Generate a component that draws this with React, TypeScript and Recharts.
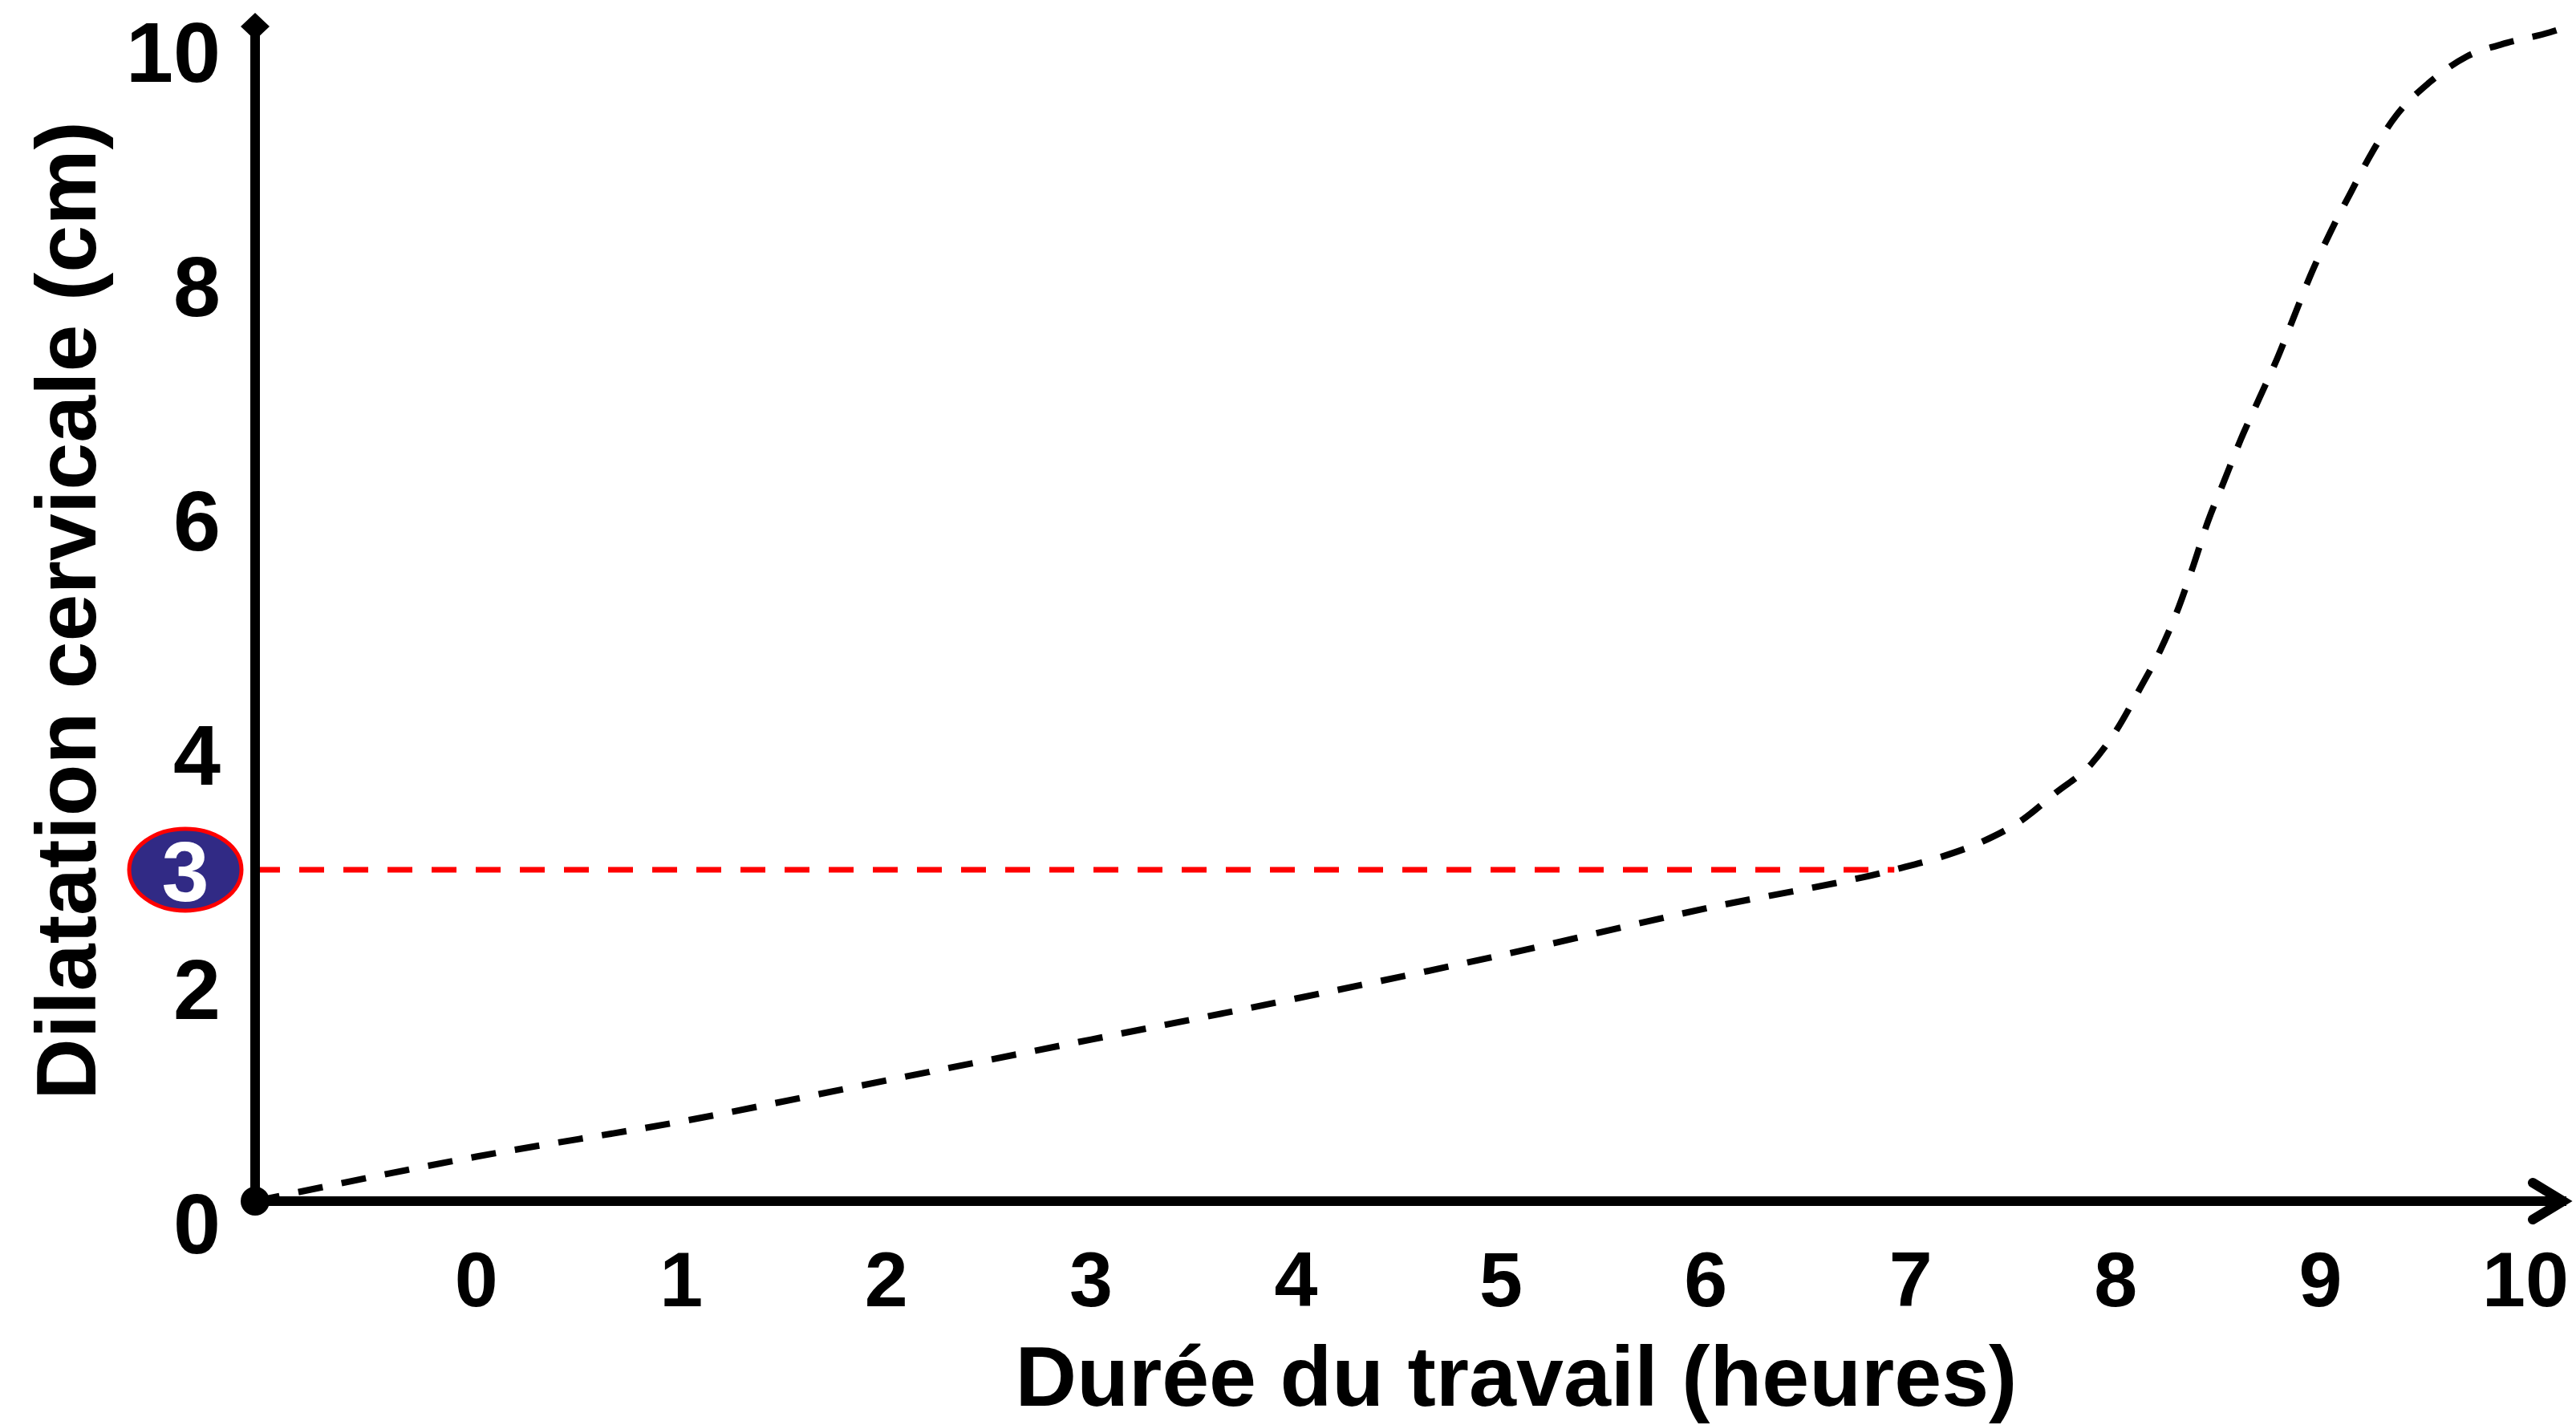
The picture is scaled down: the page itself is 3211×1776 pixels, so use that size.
import React from 'react';
import { LineChart, Line, XAxis, YAxis, ReferenceLine, ReferenceDot } from 'recharts';

// Durée du travail (heures)
const hours = [-1.08, 0, 1, 2, 3, 4, 5, 6, 6.92, 7.15, 7.35, 7.54, 7.71, 7.88, 8.0, 8.12, 8.22, 8.31, 8.38, 8.45, 8.53, 8.61, 8.7, 8.79, 8.87, 8.95, 9.05, 9.15, 9.25, 9.37, 9.53, 9.71, 9.91, 10.12, 10.19];
// Dilatation cervicale (cm)
const dilatation = [0.17, 0.55, 0.85, 1.2, 1.55, 1.9, 2.27, 2.67, 3.0, 3.11, 3.24, 3.42, 3.66, 3.9, 4.18, 4.55, 4.88, 5.25, 5.6, 5.97, 6.32, 6.67, 7.02, 7.37, 7.72, 8.07, 8.45, 8.79, 9.12, 9.44, 9.72, 9.94, 10.06, 10.15, 10.19];

const xTicks = [0, 1, 2, 3, 4, 5, 6, 7, 8, 9, 10];
const yTicks = [0, 2, 3, 4, 6, 8, 10];
const xDomain = [-1.08, 10.2];
const yDomain = [0.17, 10.2];
const highlightValue = 3;
const highlightHour = 6.92;
const xTitle = 'Durée du travail (heures)';
const yTitle = 'Dilatation cervicale (cm)';

const data = hours.map((h, i) => ({ h, v: dilatation[i] }));

const FONT = "'Liberation Sans', Arial, sans-serif";

const YTick = (props: any) => {
  const { x, y, payload } = props;
  if (payload.value === highlightValue) {
    return (
      <g>
        <ellipse cx={x - 87} cy={y} rx={70} ry={51} fill="#312a85" stroke="#ff0000" strokeWidth={5} />
        <text x={x - 87} y={y + 39} textAnchor="middle" fill="#ffffff" fontSize={106} fontWeight="bold" fontFamily={FONT}>
          {payload.value}
        </text>
      </g>
    );
  }
  return (
    <text x={x - 43} y={y + 40} textAnchor="end" fill="#000" fontSize={106} fontWeight="bold" fontFamily={FONT}>
      {payload.value}
    </text>
  );
};

const XTick = (props: any) => {
  const { x, y, payload } = props;
  return (
    <text x={x} y={y + 131} textAnchor="middle" fill="#000" fontSize={97} fontWeight="bold" fontFamily={FONT}>
      {payload.value}
    </text>
  );
};

const XTitle = () => (
  <text x={1890} y={1752} textAnchor="middle" fill="#000" fontSize={106} fontWeight="bold" fontFamily={FONT}>
    {xTitle}
  </text>
);

const YTitle = () => (
  <text x={119} y={761} transform="rotate(-90 119 761)" textAnchor="middle" fill="#000" fontSize={106} fontWeight="bold" fontFamily={FONT}>
    {yTitle}
  </text>
);

export default function App() {
  return (
    <div style={{ width: 3211, height: 1776, background: '#fff' }}>
      <style>{`html,body{margin:0;padding:0;overflow:hidden;background:#fff}`}</style>
      <LineChart width={3211} height={1776} data={data} margin={{ top: 33, right: 12, bottom: 0, left: 0 }}>
        <defs>
          <marker id="axisDiamond" viewBox="-20 -20 40 40" refX={0} refY={0} markerWidth={40} markerHeight={40} markerUnits="userSpaceOnUse" orient="0">
            <path d="M0,-17 L18,0 L0,17 L-18,0 Z" fill="#000" />
          </marker>
          <marker id="axisArrow" viewBox="-60 -40 80 80" refX={0} refY={0} markerWidth={80} markerHeight={80} markerUnits="userSpaceOnUse" orient="auto">
            <path d="M-42,-23 L-4,0 L-42,23" fill="none" stroke="#000" strokeWidth={12} strokeLinecap="round" strokeLinejoin="miter" />
          </marker>
        </defs>
        <XAxis
          type="number"
          dataKey="h"
          domain={xDomain}
          ticks={xTicks}
          interval={0}
          height={279}
          tickSize={0}
          tickMargin={0}
          tickLine={false}
          axisLine={{ stroke: '#000', strokeWidth: 12, markerEnd: 'url(#axisArrow)' } as any}
          tick={<XTick />}
          label={{ content: <XTitle /> } as any}
        />
        <YAxis
          type="number"
          dataKey="v"
          domain={yDomain}
          ticks={yTicks}
          interval={0}
          width={318}
          tickSize={0}
          tickMargin={0}
          tickLine={false}
          axisLine={{ stroke: '#000', strokeWidth: 12, markerStart: 'url(#axisDiamond)' } as any}
          tick={<YTick />}
          label={{ content: <YTitle /> } as any}
        />
        <ReferenceLine
          segment={[{ x: xDomain[0], y: highlightValue }, { x: highlightHour, y: highlightValue }]}
          stroke="#ff0000"
          strokeWidth={7}
          strokeDasharray="31 24"
          ifOverflow="visible"
        />
        <Line
          type="monotone"
          dataKey="v"
          stroke="#000"
          strokeWidth={8}
          strokeDasharray="31 24"
          dot={false}
          activeDot={false}
          isAnimationActive={false}
        />
        <ReferenceDot x={xDomain[0]} y={yDomain[0]} r={18} fill="#000" stroke="none" ifOverflow="visible" />
      </LineChart>
    </div>
  );
}
